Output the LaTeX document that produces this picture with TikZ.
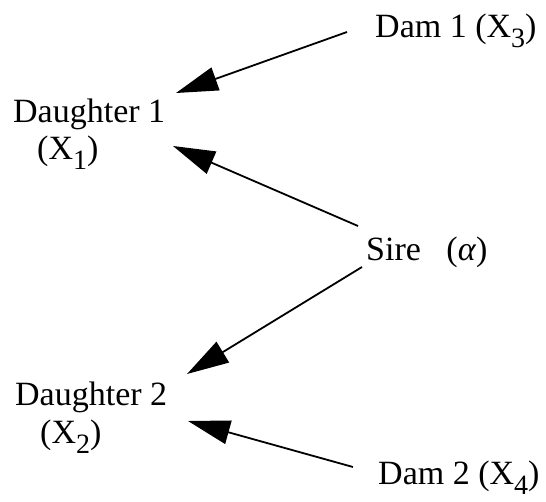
\documentclass[tikz,border=0pt]{standalone}
\usepackage{fontspec}
\setmainfont{Liberation Serif}
\usetikzlibrary{arrows.meta}
\newcommand{\subdig}[1]{\raisebox{-0.3em}{\fontsize{28}{28}\selectfont #1}}
\begin{document}
\begin{tikzpicture}[x=1pt,y=-1pt,
  lbl/.style={anchor=base west,inner sep=0pt,font=\fontsize{34}{38}\selectfont},
  arr/.style={line width=1.8pt,-{Triangle[length=42pt,width=24pt]}}]
\useasboundingbox (0,0) rectangle (546,501);
% labels
\node[lbl] (dam1) at (375,37) {Dam 1 (X\subdig{3})};
\node[lbl] (d1) at (13,122) {Daughter 1};
\node[lbl] (d1x) at (37,159) {(X\subdig{1})};
\node[lbl] (sire) at (366,260) {Sire\hspace{0.75em}(\textit{α})};
\node[lbl] (d2) at (15,405) {Daughter 2};
\node[lbl] (d2x) at (40,443) {(X\subdig{2})};
\node[lbl] (dam2) at (378,484) {Dam 2 (X\subdig{4})};
% connector ends
\coordinate (dam1out) at (347,32);
\coordinate (d1inA) at (176,93);
\coordinate (sireoutA) at (358,226);
\coordinate (d1inB) at (173,146);
\coordinate (sireoutB) at (362,267);
\coordinate (d2inA) at (187,374);
\coordinate (dam2out) at (353,467);
\coordinate (d2inB) at (188,421);
% connectors
\draw[arr] (dam1out) -- (d1inA);
\draw[arr] (sireoutA) -- (d1inB);
\draw[arr] (sireoutB) -- (d2inA);
\draw[arr] (dam2out) -- (d2inB);
\end{tikzpicture}
\end{document}
